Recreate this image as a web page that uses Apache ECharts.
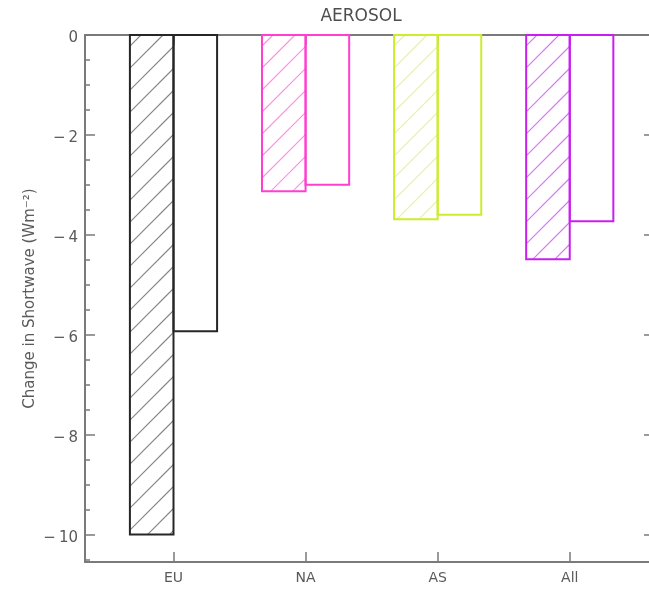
<!DOCTYPE html>
<html>
<head>
<meta charset="utf-8">
<title>AEROSOL</title>
<script src="https://cdn.jsdelivr.net/npm/echarts@6/dist/echarts.min.js"></script>
<style>
  html, body { margin: 0; padding: 0; background: #ffffff; }
  #chart { width: 649px; height: 595px; }
</style>
</head>
<body>
<div id="chart"></div>
<script>
// Regions and their shortwave changes (W m^-2)
const regions = ['EU', 'NA', 'AS', 'All'];
const regionPositions = [1, 2, 3, 4];
const hatchedValues = [-10.0, -3.13, -3.69, -4.49];
const openValues = [-5.93, -3.00, -3.60, -3.73];

// Tick positions on the value axis
const yMajorTicks = [0, -2, -4, -6, -8, -10];
const yMinorTicks = [-0.5, -1, -1.5, -2.5, -3, -3.5, -4.5, -5, -5.5, -6.5, -7, -7.5,
                     -8.5, -9, -9.5, -10.5];

// Styling
const outlineColors = ['#262626', '#ff3fcf', '#cdec2e', '#c81ff0'];
const hatchColors = ['#858585', '#ff8ee2', '#e2f590', '#d873f4'];
const axisColor = '#7a7a7a';
const textColor = '#5a5a5a';
const fontFamily = 'DejaVu Sans, Verdana, sans-serif';
const barWidth = 0.33;     // in x-axis units
const hatchStep = 22;      // px between hatch lines along x + y

const chart = echarts.init(document.getElementById('chart'), null, { renderer: 'canvas' });

function makeBar(side, hatched) {
  return function (params, api) {
    const x = api.value(0);
    const v = api.value(1);
    const i = params.dataIndex;
    const xa = side < 0 ? x - barWidth : x;
    const xb = side < 0 ? x : x + barWidth;
    const pTop = api.coord([xa, 0]);
    const pBot = api.coord([xb, v]);
    const left = pTop[0], right = pBot[0];
    const top = pTop[1], bottom = pBot[1];
    const children = [];
    if (hatched) {
      // diagonal "/" lines: x + y = c, clipped to the bar rectangle
      const cStart = Math.ceil((left + top) / hatchStep) * hatchStep;
      for (let c = cStart; c <= right + bottom; c += hatchStep) {
        const xs = Math.max(left, c - bottom);
        const xe = Math.min(right, c - top);
        if (xe - xs < 0.5) continue;
        children.push({
          type: 'line',
          shape: { x1: xs, y1: c - xs, x2: xe, y2: c - xe },
          style: { stroke: hatchColors[i], lineWidth: 1.1 }
        });
      }
    }
    children.push({
      type: 'rect',
      shape: { x: left, y: top, width: right - left, height: bottom - top },
      style: { fill: 'none', stroke: outlineColors[i], lineWidth: 2 }
    });
    return { type: 'group', children: children };
  };
}

const xBase = {
  type: 'value',
  min: 0.33,
  max: 4.6,
  axisLine: { show: true, onZero: false, lineStyle: { color: axisColor, width: 2 } },
  axisTick: { show: true, inside: true, length: 10, customValues: regionPositions,
              lineStyle: { color: axisColor, width: 1.5 } },
  splitLine: { show: false }
};

const yBase = {
  type: 'value',
  min: -10.55,
  max: 0,
  splitLine: { show: false }
};

const minusFmt = v => String(v).replace('-', '\u2212\u2009');

const option = {
  animation: false,
  backgroundColor: '#ffffff',
  grid: { left: 85, top: 35, right: 0, bottom: 33, containLabel: false },
  graphic: [{
    type: 'text',
    x: 361,
    y: 17,
    style: {
      text: 'AEROSOL',
      fill: '#4e4e4e',
      font: '17px ' + fontFamily,
      textAlign: 'center',
      textVerticalAlign: 'middle'
    }
  }],
  xAxis: [
    Object.assign({}, xBase, {
      position: 'bottom',
      axisLabel: {
        customValues: regionPositions,
        formatter: v => regions[Math.round(v) - 1],
        color: textColor, fontSize: 14, fontFamily: fontFamily, margin: 9
      }
    }),
    Object.assign({}, xBase, {
      position: 'top',
      axisLabel: { show: false }
    })
  ],
  yAxis: [
    Object.assign({}, yBase, {
      position: 'left',
      name: 'Change in Shortwave (Wm\u207B\u00B2)',
      nameLocation: 'middle',
      nameGap: 47,
      nameRotate: 90,
      nameMoveOverlap: false,
      nameTextStyle: { color: textColor, fontSize: 15, fontFamily: fontFamily },
      axisLine: { show: true, onZero: false, lineStyle: { color: axisColor, width: 2 } },
      axisTick: { show: true, inside: true, length: 10, customValues: yMajorTicks,
                  lineStyle: { color: axisColor, width: 1.5 } },
      axisLabel: { customValues: yMajorTicks, formatter: minusFmt,
                   verticalAlign: 'top', lineHeight: 7,
                   color: textColor, fontSize: 15, fontFamily: fontFamily, margin: 7 }
    }),
    Object.assign({}, yBase, {
      position: 'left',
      offset: 0,
      axisLine: { show: false },
      axisTick: { show: true, inside: true, length: 5, customValues: yMinorTicks,
                  lineStyle: { color: axisColor, width: 1.5 } },
      axisLabel: { show: false }
    }),
    Object.assign({}, yBase, {
      position: 'right',
      axisLine: { show: false },
      axisTick: { show: true, inside: true, length: 5, customValues: yMajorTicks,
                  lineStyle: { color: axisColor, width: 1.5 } },
      axisLabel: { show: false }
    })
  ],
  series: [
    {
      name: 'hatched',
      type: 'custom',
      xAxisIndex: 0,
      yAxisIndex: 0,
      clip: false,
      renderItem: makeBar(-1, true),
      encode: { x: 0, y: 1 },
      data: regionPositions.map((p, i) => [p, hatchedValues[i]])
    },
    {
      name: 'open',
      type: 'custom',
      xAxisIndex: 0,
      yAxisIndex: 0,
      clip: false,
      renderItem: makeBar(1, false),
      encode: { x: 0, y: 1 },
      data: regionPositions.map((p, i) => [p, openValues[i]])
    }
  ]
};

chart.setOption(option);
</script>
</body>
</html>
